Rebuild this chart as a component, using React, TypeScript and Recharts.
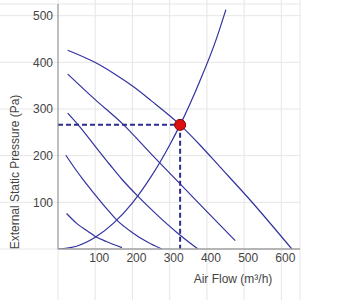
import React from 'react';
import {
  ComposedChart,
  Line,
  XAxis,
  YAxis,
  CartesianGrid,
  ReferenceLine,
  ReferenceDot,
} from 'recharts';

// Fan curves: air flow (m³/h) vs external static pressure (Pa)
const fanCurve1 = [
  { q: 26, p: 426 }, { q: 99, p: 400 }, { q: 150, p: 376 }, { q: 202, p: 348 },
  { q: 250, p: 318 }, { q: 328, p: 266 }, { q: 380, p: 224 }, { q: 435, p: 176 },
  { q: 516, p: 105 }, { q: 628, p: 0 },
];
const fanCurve2 = [
  { q: 26, p: 375 }, { q: 100, p: 320 }, { q: 175, p: 267 }, { q: 250, p: 204 },
  { q: 330, p: 138 }, { q: 400, p: 80 }, { q: 476, p: 18 },
];
const fanCurve3 = [
  { q: 26, p: 291 }, { q: 53, p: 267 }, { q: 100, p: 220 }, { q: 140, p: 180 },
  { q: 171, p: 150 }, { q: 211, p: 116 }, { q: 261, p: 77 }, { q: 320, p: 35 },
  { q: 376, p: 0 },
];
const fanCurve4 = [
  { q: 21, p: 201 }, { q: 45, p: 173 }, { q: 68, p: 148 }, { q: 100, p: 116 },
  { q: 130, p: 87 }, { q: 158, p: 62 }, { q: 200, p: 35 }, { q: 240, p: 15 },
  { q: 279, p: 0 },
];
const fanCurve5 = [
  { q: 23, p: 76 }, { q: 50, p: 55 }, { q: 80, p: 38 }, { q: 100, p: 27 },
  { q: 130, p: 16 }, { q: 172, p: 3 },
];
const systemCurve = [
  { q: 0, p: 0 }, { q: 50, p: 6 }, { q: 100, p: 25 }, { q: 150, p: 56 },
  { q: 200, p: 99 }, { q: 250, p: 155 }, { q: 300, p: 223 }, { q: 328, p: 266 },
  { q: 380, p: 358 }, { q: 424, p: 447 }, { q: 451, p: 513 },
];
const operatingPoint = { q: 328, p: 266 };

const xTicks = [100, 200, 300, 400, 500, 600];
const yTicks = [100, 200, 300, 400, 500];
const xDomain = [0, 650];
const yDomain = [0, 525];

const xTitle = 'Air Flow (m³/h)';
const yTitle = 'External Static Pressure (Pa)';

const curveColor = '#3232a0';
const dashColor = '#2c2c8c';
const FONT = '"Liberation Sans", Arial, sans-serif';

const curves = [fanCurve1, fanCurve2, fanCurve3, fanCurve4, fanCurve5, systemCurve];

export default function App() {
  return (
    <div style={{ position: 'absolute', left: 0, top: 0, width: 350, height: 300, background: '#fff' }}>
      <ComposedChart
        width={350}
        height={300}
        margin={{ top: 4, right: 50, bottom: 0, left: 0 }}
        style={{ fontFamily: FONT }}
      >
        <CartesianGrid x={0} y={0} width={300} height={300} stroke="#e6e6e6" strokeWidth={1} />
        <XAxis
          type="number"
          dataKey="q"
          domain={xDomain}
          ticks={xTicks}
          allowDataOverflow
          height={51}
          tickLine={false}
          tickSize={0}
          tickMargin={4}
          axisLine={{ stroke: '#a0a0a0', strokeWidth: 1.5 }}
          tick={{ fill: '#444', fontSize: 12, fontFamily: FONT, dx: 4 }}
          label={{
            content: () => (
              <text x={233} y={283} textAnchor="middle" fill="#444" fontSize={12} fontFamily={FONT}>
                {xTitle}
              </text>
            ),
          }}
        />
        <YAxis
          type="number"
          dataKey="p"
          domain={yDomain}
          ticks={yTicks}
          allowDataOverflow
          width={58}
          tickLine={false}
          tickSize={0}
          tickMargin={5}
          axisLine={{ stroke: '#8a8a8a', strokeWidth: 1 }}
          tick={{ fill: '#444', fontSize: 12, fontFamily: FONT }}
          label={{
            content: () => (
              <text
                x={15}
                y={172}
                transform="rotate(-90 15 172)"
                textAnchor="middle"
                dominantBaseline="central"
                fill="#444"
                fontSize={12}
                fontFamily={FONT}
              >
                {yTitle}
              </text>
            ),
          }}
        />
        {curves.map((c, i) => (
          <Line
            key={i}
            data={c}
            dataKey="p"
            type="monotone"
            stroke={curveColor}
            strokeWidth={1.2}
            dot={false}
            activeDot={false}
            isAnimationActive={false}
          />
        ))}
        <ReferenceLine
          segment={[{ x: 0, y: operatingPoint.p }, { x: operatingPoint.q, y: operatingPoint.p }]}
          stroke={dashColor}
          strokeWidth={2}
          strokeDasharray="5 3"
        />
        <ReferenceLine
          segment={[{ x: operatingPoint.q, y: operatingPoint.p }, { x: operatingPoint.q, y: 0 }]}
          stroke={dashColor}
          strokeWidth={2}
          strokeDasharray="5 3"
        />
        <ReferenceDot
          x={operatingPoint.q}
          y={operatingPoint.p}
          r={5.5}
          fill="#dd1010"
          stroke="#8a0000"
          strokeWidth={1}
        />
      </ComposedChart>
    </div>
  );
}
